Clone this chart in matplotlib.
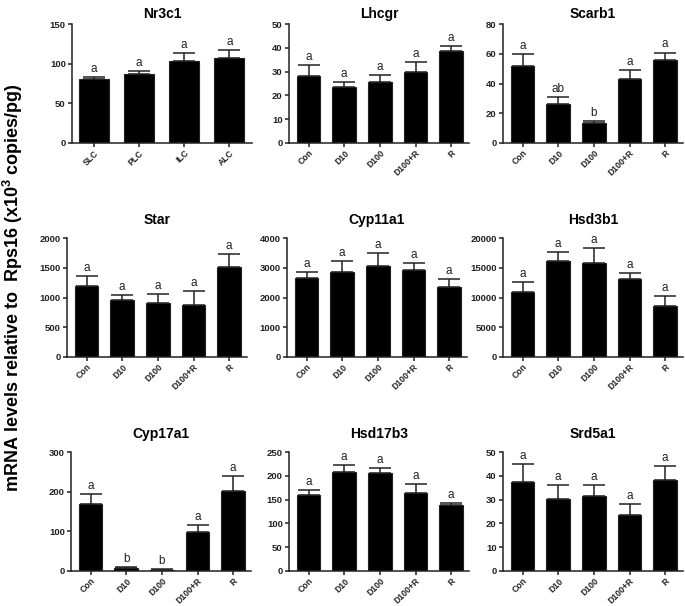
import matplotlib
matplotlib.use("Agg")
import matplotlib.pyplot as plt
import numpy as np

plt.rcParams.update({
    "font.family": "Liberation Sans",
    "font.weight": "bold",
    "mathtext.fontset": "custom",
    "mathtext.rm": "Liberation Sans",
    "mathtext.bf": "Liberation Sans:bold",
    "mathtext.default": "bf",
    "axes.linewidth": 1.1,
    "xtick.major.width": 1.1,
    "ytick.major.width": 1.1,
    "xtick.major.size": 3,
    "ytick.major.size": 3,
})

INK = "#222222"

groups_lc = ["SLC", "PLC", "ILC", "ALC"]
groups = ["Con", "D10", "D100", "D100+R", "R"]

genes = ["Nr3c1", "Lhcgr", "Scarb1", "Star", "Cyp11a1", "Hsd3b1",
         "Cyp17a1", "Hsd17b3", "Srd5a1"]

nr3c1_mean = [80.9, 87.6, 103.5, 107.7]
nr3c1_err = [2.5, 2.9, 10.0, 9.2]
lhcgr_mean = [28.1, 23.7, 25.7, 29.9, 38.8]
lhcgr_err = [4.7, 2.1, 2.9, 4.2, 1.8]
scarb1_mean = [52.1, 26.1, 13.4, 42.9, 55.6]
scarb1_err = [7.5, 4.7, 1.1, 6.3, 5.2]
star_mean = [1188, 964, 908, 874, 1518]
star_err = [168, 78, 156, 241, 219]
cyp11a1_mean = [2644, 2868, 3070, 2936, 2353]
cyp11a1_err = [213, 348, 437, 212, 269]
hsd3b1_mean = [10924, 16134, 15854, 13053, 8571]
hsd3b1_err = [1737, 1513, 2521, 1065, 1681]
cyp17a1_mean = [170, 8.4, 2.5, 99, 202]
cyp17a1_err = [23, 2.6, 1.5, 17, 37]
hsd17b3_mean = [160, 208, 205, 163, 138]
hsd17b3_err = [11, 15, 11, 20, 5]
srd5a1_mean = [37.4, 30.2, 31.4, 23.7, 38.1]
srd5a1_err = [7.4, 6.0, 4.9, 4.5, 6.0]

letters = {
    "Nr3c1": ["a", "a", "a", "a"],
    "Lhcgr": ["a"] * 5,
    "Scarb1": ["a", "ab", "b", "a", "a"],
    "Star": ["a"] * 5,
    "Cyp11a1": ["a"] * 5,
    "Hsd3b1": ["a"] * 5,
    "Cyp17a1": ["a", "b", "b", "a", "a"],
    "Hsd17b3": ["a"] * 5,
    "Srd5a1": ["a"] * 5,
}

panels = [
    (nr3c1_mean, nr3c1_err, groups_lc, 150, 50),
    (lhcgr_mean, lhcgr_err, groups, 50, 10),
    (scarb1_mean, scarb1_err, groups, 80, 20),
    (star_mean, star_err, groups, 2000, 500),
    (cyp11a1_mean, cyp11a1_err, groups, 4000, 1000),
    (hsd3b1_mean, hsd3b1_err, groups, 20000, 5000),
    (cyp17a1_mean, cyp17a1_err, groups, 300, 100),
    (hsd17b3_mean, hsd17b3_err, groups, 250, 50),
    (srd5a1_mean, srd5a1_err, groups, 50, 10),
]

W, H = 685, 606
lefts = [[72, 289, 503], [67, 287, 503], [71, 289, 503]]
tops = [24, 238, 452]
title_pads = [4, 10, 10]
plot_w, plot_h = 180, 119

fig = plt.figure(figsize=(W / 100, H / 100), dpi=100)

for i, (gene, (mean, err, labels, ymax, step)) in enumerate(zip(genes, panels)):
    r, c = divmod(i, 3)
    left = lefts[r][c]
    ax = fig.add_axes([left / W, 1 - (tops[r] + plot_h) / H, plot_w / W, plot_h / H])
    x = np.arange(len(labels))
    width = 0.66
    ax.bar(x, mean, width=width, color="black", edgecolor=INK, linewidth=0.8,
           zorder=2)
    ax.errorbar(x, mean, yerr=[np.zeros(len(err)), err], fmt="none",
                ecolor=INK, elinewidth=1.1, capsize=8, capthick=1.1, zorder=1)
    for xi, m, e, lab in zip(x, mean, err, letters[gene]):
        ax.annotate(lab, (xi, m + e), xytext=(0, 1.5), textcoords="offset points",
                    ha="center", va="bottom", fontsize=8.5, fontweight="normal",
                    color=INK)
    if len(labels) == 4:
        ax.set_xlim(-0.48, 3.5)
    else:
        ax.set_xlim(-0.55, 4.5)
    ax.set_ylim(0, ymax)
    ax.set_yticks(np.arange(0, ymax + step, step))
    ax.set_xticks(x, labels, rotation=45, ha="right", rotation_mode="anchor",
                  fontsize=6.2)
    ax.tick_params(axis="y", labelsize=6.8, colors=INK, pad=1.5)
    ax.tick_params(axis="x", colors=INK, pad=1)
    for s in ("top", "right"):
        ax.spines[s].set_visible(False)
    for s in ("left", "bottom"):
        ax.spines[s].set_color(INK)
    ax.set_title(gene, fontsize=10, fontweight="bold", pad=title_pads[r])

fig.text(13 / W, 1 - 288 / H, "mRNA levels relative to  Rps16 (x10$^{3}$ copies/pg)",
         rotation=90, ha="center", va="center", fontsize=13, fontweight="bold")

fig.savefig("out.png", dpi=100)
